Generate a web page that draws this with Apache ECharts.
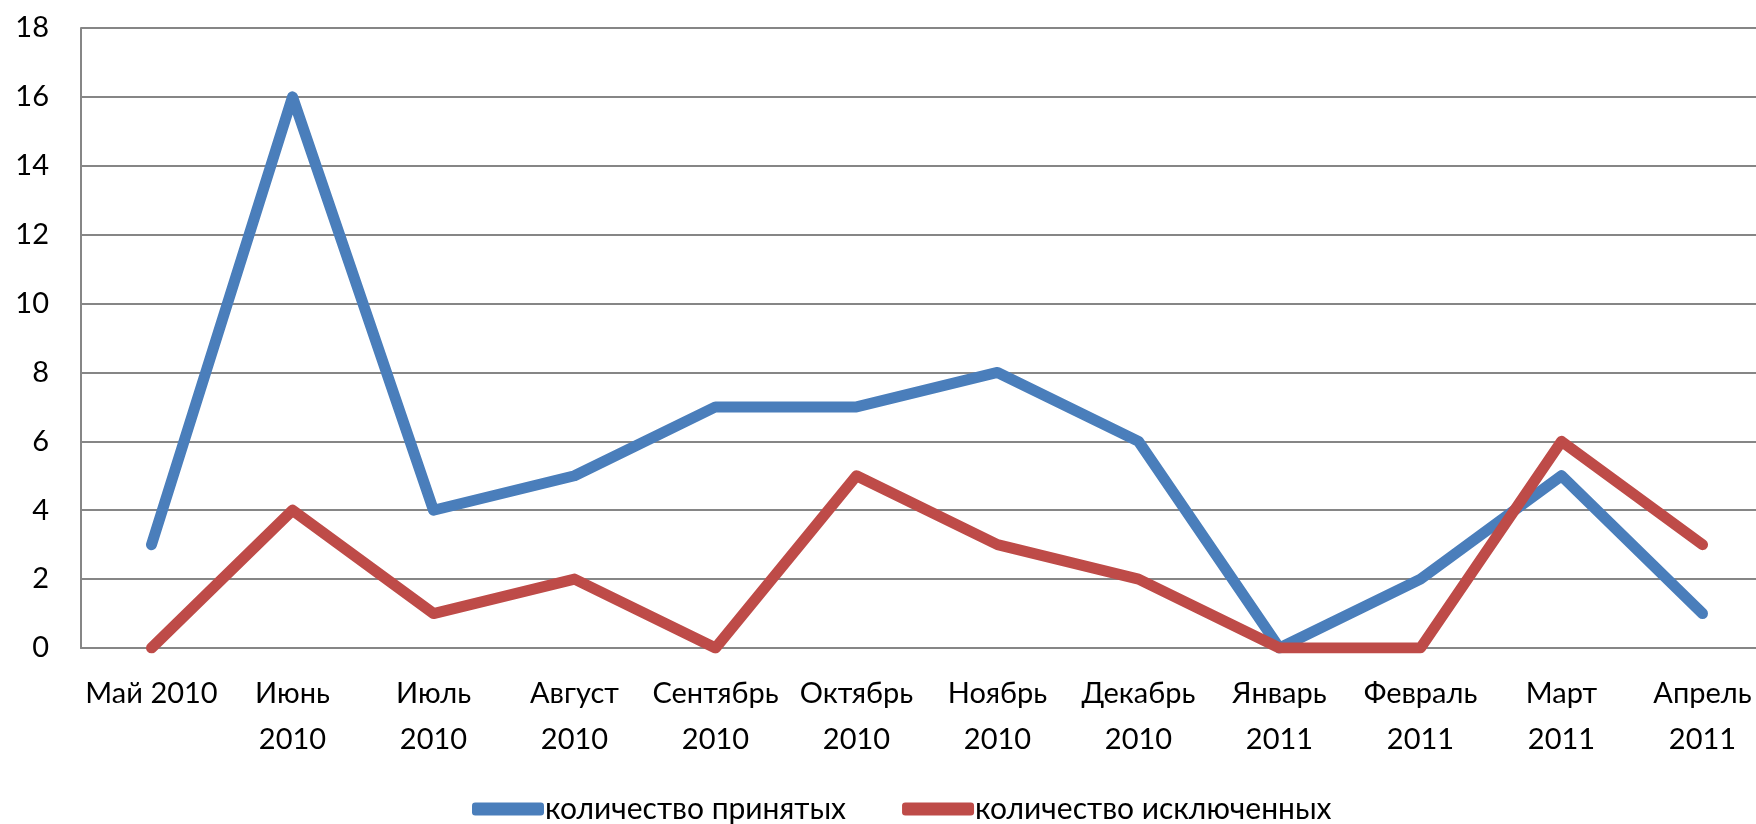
<!DOCTYPE html>
<html><head><meta charset="utf-8">
<script src="https://cdn.jsdelivr.net/npm/echarts@6/dist/echarts.min.js"></script>
<style>html,body{margin:0;padding:0;background:#fff;overflow:hidden;width:1756px;height:824px}#c{width:1773px;height:824px}</style>
</head><body><div id="c"></div>
<script>
const categories = ['Май 2010','Июнь\n2010','Июль\n2010','Август\n2010','Сентябрь\n2010','Октябрь\n2010','Ноябрь\n2010','Декабрь\n2010','Январь\n2011','Февраль\n2011','Март\n2011','Апрель\n2011'];
const accepted = [3,16,4,5,7,7,8,6,0,2,5,1];
const excluded = [0,4,1,2,0,5,3,2,0,0,6,3];
const seriesNames = ['количество принятых','количество исключенных'];
const FONT = 'Lato';
const chart = echarts.init(document.getElementById('c'));
chart.setOption({
  animation:false,
  grid:{left:81,top:28,right:0,bottom:176,containLabel:false},
  legend:{left:467,top:789,itemWidth:72,itemHeight:13,itemGap:56,
    textStyle:{fontFamily:FONT,fontSize:30,color:'#000',padding:[0,0,0,-4]},
    data:[{name:seriesNames[0],icon:'roundRect'},{name:seriesNames[1],icon:'roundRect'}]},
  xAxis:{type:'category',data:categories,boundaryGap:true,
    axisLine:{show:true,lineStyle:{color:'#868686',width:2}},axisTick:{show:false},
    axisLabel:{fontFamily:FONT,fontSize:29,color:'#000',margin:23,lineHeight:46,interval:0}},
  yAxis:{type:'value',min:0,max:18,interval:2,
    axisLine:{show:true,lineStyle:{color:'#868686',width:2}},axisTick:{show:false},
    splitLine:{lineStyle:{color:'#868686',width:2}},
    axisLabel:{fontFamily:FONT,fontSize:29,color:'#000',margin:32}},
  series:[
    {name:seriesNames[0],type:'line',data:accepted,symbol:'none',color:'#4A7EBB',
     lineStyle:{width:11,color:'#4A7EBB',cap:'round',join:'round'}},
    {name:seriesNames[1],type:'line',data:excluded,symbol:'none',color:'#BE4B48',
     lineStyle:{width:11,color:'#BE4B48',cap:'round',join:'round'}}
  ]
});
</script></body></html>
